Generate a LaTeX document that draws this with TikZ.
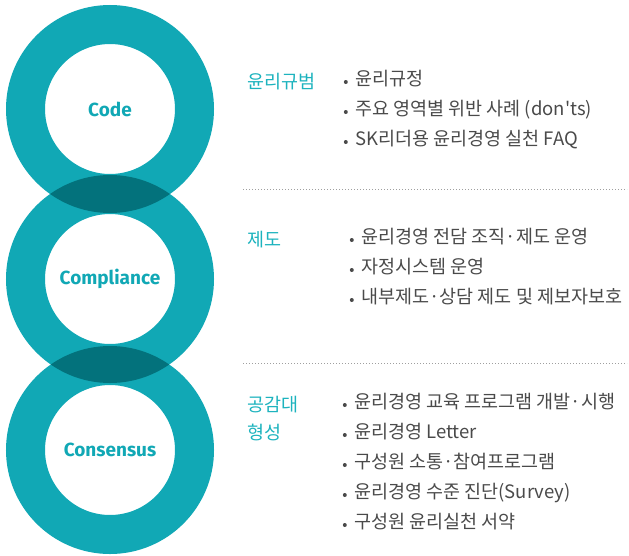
\documentclass[tikz,border=0pt]{standalone}
\usepackage{fontspec}
\setmainfont{Noto Sans CJK KR}
\newfontfamily\krfont{Noto Sans CJK KR}
\newfontfamily\ringfont{Fira Sans}
\usetikzlibrary{positioning}
\definecolor{ringteal}{HTML}{11A8B5}
\definecolor{lensteal}{HTML}{03727C}
\definecolor{headteal}{HTML}{1DB3BE}
\definecolor{itemgray}{HTML}{4A4A4A}
\def\ringout{104pt}

\begin{document}
\begin{tikzpicture}[x=1pt,y=-1pt,
	ring/.style={circle,draw=ringteal,line width=39pt,minimum size=169pt,inner sep=0pt,text=ringteal,font=\ringfont\bfseries\fontsize{19}{22}\selectfont},
	head/.style={anchor=west,inner sep=0pt,align=left,text=headteal,font=\krfont\fontsize{18.5}{28}\selectfont},
	item/.style={anchor=west,inner sep=0pt,text height=0.85em,text depth=0.15em,text=itemgray,font=\krfont\fontsize{18.5}{22}\selectfont,
		label={[circle,fill=itemgray,inner sep=0pt,minimum size=4pt,label distance=7pt]left:{}}},
	sep/.style={draw=gray!75,line width=1pt,dash pattern=on 1pt off 2pt}]
	\useasboundingbox (0,0) rectangle (629,555);
	
	% Draw the three rings
	\node[ring] (code) at (110,109) {Code};
	\node[ring] (comp) at (110,279) {Compliance};
	\node[ring] (cons) at (110,450) {Consensus};
	
	% Darker overlaps between the rings
	\begin{scope}
	\clip (code.center) circle (\ringout);
	\fill[lensteal] (comp.center) circle (\ringout);
	\end{scope}
	\begin{scope}
	\clip (comp.center) circle (\ringout);
	\fill[lensteal] (cons.center) circle (\ringout);
	\end{scope}
	
	% Headings
	\node[head] (h-code) at (247,82) {윤리규범};
	\node[head] (h-comp) at (247,240) {제도};
	\node[head] (h-cons) at (247,419) {공감대\\형성};
	
	% Items of the code block
	\foreach \txt [count=\i] in {윤리규정, 주요 영역별 위반 사례 (don'ts), SK리더용 윤리경영 실천 FAQ}
	\node[item] (code-\i) at (355,52+30*\i) {\txt};
	
	% Items of the compliance block
	\foreach \txt [count=\i] in {윤리경영 전담 조직·제도 운영, 자정시스템 운영, 내부제도·상담 제도 및 제보자보호}
	\node[item] (comp-\i) at (361,210+30*\i) {\txt};
	
	% Items of the consensus block
	\foreach \txt [count=\i] in {윤리경영 교육 프로그램 개발·시행, 윤리경영 Letter, 구성원 소통·참여프로그램, 윤리경영 수준 진단(Survey), 구성원 윤리실천 서약}
	\node[item] (cons-\i) at (354,375+30*\i) {\txt};
	
	% Dotted separators
	\coordinate (sep1-l) at (243,189);
	\coordinate (sep1-r) at (627,189);
	\coordinate (sep2-l) at (243,363);
	\coordinate (sep2-r) at (627,363);
	\draw[sep] (sep1-l) -- (sep1-r);
	\draw[sep] (sep2-l) -- (sep2-r);
\end{tikzpicture}
\end{document}
